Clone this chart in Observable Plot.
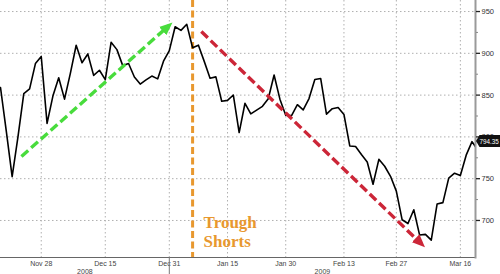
<!DOCTYPE html>
<html><head><meta charset="utf-8">
<script src="https://cdn.jsdelivr.net/npm/d3@7"></script>
<script src="https://cdn.jsdelivr.net/npm/@observablehq/plot@0.6"></script>
<style>
html,body{margin:0;padding:0;background:#fff;}
#chart svg{display:block;}
</style></head><body><div id="chart"></div>
<script>
// Trading days shown (x axis is a trading-day axis)
const dates = [
  "Nov 18","Nov 19","Nov 20","Nov 21","Nov 24","Nov 25","Nov 26","Nov 28",
  "Dec 1","Dec 2","Dec 3","Dec 4","Dec 5","Dec 8","Dec 9","Dec 10","Dec 11","Dec 12",
  "Dec 15","Dec 16","Dec 17","Dec 18","Dec 19","Dec 22","Dec 23","Dec 24","Dec 26",
  "Dec 29","Dec 30","Dec 31",
  "Jan 2","Jan 5","Jan 6","Jan 7","Jan 8","Jan 9","Jan 12","Jan 13","Jan 14","Jan 15",
  "Jan 16","Jan 20","Jan 21","Jan 22","Jan 23","Jan 26","Jan 27","Jan 28","Jan 29","Jan 30",
  "Feb 2","Feb 3","Feb 4","Feb 5","Feb 6","Feb 9","Feb 10","Feb 11","Feb 12","Feb 13",
  "Feb 17","Feb 18","Feb 19","Feb 20","Feb 23","Feb 24","Feb 25","Feb 26","Feb 27",
  "Mar 2","Mar 3","Mar 4","Mar 5","Mar 6","Mar 9","Mar 10","Mar 11","Mar 12","Mar 13",
  "Mar 16","Mar 17","Mar 18","Mar 19"
];
const closes = [
  859.12, 806.58, 752.44, 800.03, 851.81, 857.39, 887.68, 896.24,
  816.21, 848.81, 870.74, 845.22, 876.07, 909.70, 888.67, 899.24, 873.59, 879.73,
  868.57, 913.18, 904.42, 885.28, 887.88, 871.63, 863.16, 868.15, 872.80,
  869.42, 890.64, 903.25,
  931.80, 927.45, 934.70, 906.65, 909.73, 890.35, 870.26, 871.79, 842.62, 843.74,
  850.12, 805.22, 840.24, 827.50, 831.95, 836.57, 845.71, 874.09, 845.14, 825.88,
  825.44, 838.51, 832.23, 845.85, 868.60, 869.89, 827.16, 833.74, 835.19, 826.84,
  789.17, 788.42, 778.94, 770.05, 743.33, 773.14, 764.90, 752.83, 735.09,
  700.82, 696.33, 712.87, 682.55, 683.38, 676.53, 719.60, 721.36, 750.74, 756.55,
  753.89, 778.12, 794.35, 784.04
];
const tickLabels = ["Nov 28","Dec 15","Dec 31","Jan 15","Jan 30","Feb 13","Feb 27","Mar 16"];
const yTicks = [700, 750, 800, 850, 900, 950];
const yMinorTicks = [725, 775, 825, 875, 925];
const years = ["2008", "2009"];
const yearBreak = "Dec 31";
const lastPrice = 794.35;
const troughDate = "Jan 7";
const troughText = "Trough\nShorts";
// annotation arrows in (trading-day index, price)
const upArrow = [{x1: 3.6, y1: 776.6, x2: 28.9, y2: 933}];
const downArrow = [{x1: 34.5, y1: 926, x2: 72.3, y2: 672}];

const xDomain = [0, 81.6];
const yDomain = [655.7, 963.2];

const rows = closes.map((c, i) => ({i, c, date: dates[i]}));
const tickIdx = tickLabels.map(l => dates.indexOf(l));
const breakIdx = dates.indexOf(yearBreak);
const troughIdx = dates.indexOf(troughDate);
const yearRows = [
  {year: years[0], x: (xDomain[0] + breakIdx) / 2},
  {year: years[1], x: (breakIdx + xDomain[1]) / 2}
];
const yBelow = yDomain[0] - (17 / 257) * (yDomain[1] - yDomain[0]);

const green = "#48dc3c", red = "#cc2638", orange = "#e8982f";

function head(color, context) {
  const doc = (context && context.document) || document;
  const ns = "http://www.w3.org/2000/svg";
  const m = doc.createElementNS(ns, "marker");
  m.setAttribute("viewBox", "-7 -6 13 12");
  m.setAttribute("markerUnits", "userSpaceOnUse");
  m.setAttribute("markerWidth", 13);
  m.setAttribute("markerHeight", 12);
  m.setAttribute("refX", 1);
  m.setAttribute("refY", 0);
  m.setAttribute("orient", "auto");
  m.setAttribute("fill", color);
  m.setAttribute("stroke", "none");
  m.setAttribute("stroke-dasharray", "none");
  const p = doc.createElementNS(ns, "path");
  p.setAttribute("d", "M-7,-5.5L6,0L-7,5.5Z");
  p.setAttribute("stroke", "none");
  p.setAttribute("stroke-dasharray", "none");
  m.appendChild(p);
  return m;
}

const axisFont = "'Liberation Sans', Arial, sans-serif";

const chart = Plot.plot({
  width: 500, height: 274,
  marginTop: 0, marginRight: 25, marginBottom: 17, marginLeft: 0,
  style: {fontFamily: axisFont, background: "#fff", overflow: "visible"},
  x: {domain: xDomain, axis: null},
  y: {domain: yDomain, axis: null},
  marks: [
    Plot.ruleY(yTicks, {stroke: "#b0b0b0", strokeDasharray: "1.5,2.5"}),
    Plot.ruleX(tickIdx, {stroke: "#b0b0b0", strokeDasharray: "1.5,2.5"}),
    Plot.ruleX([troughIdx], {stroke: orange, strokeWidth: 3, strokeDasharray: "7,3.5"}),
    Plot.line(rows, {x: "i", y: "c", stroke: "#000", strokeWidth: 1.6, clip: true}),
    Plot.link(upArrow, {x1: "x1", y1: "y1", x2: "x2", y2: "y2", stroke: green, strokeWidth: 3.4, strokeDasharray: "9,4", markerEnd: head}),
    Plot.link(downArrow, {x1: "x1", y1: "y1", x2: "x2", y2: "y2", stroke: red, strokeWidth: 3.4, strokeDasharray: "9,4", markerEnd: head}),
    Plot.text([troughText], {x: troughIdx, y: 687, dx: 11, text: d => d, textAnchor: "start", lineAnchor: "middle",
      lineHeight: 1.12, fontSize: 17, fontWeight: "bold", fontFamily: "'Liberation Serif', 'Times New Roman', serif", fill: orange}),
    Plot.ruleY([yDomain[0]], {stroke: "#666"}),
    Plot.frame({anchor: "right", stroke: "#9a9a9a", strokeWidth: 2}),
    Plot.axisY(yMinorTicks, {anchor: "right", tickSize: 2, tickFormat: () => "", stroke: "#888"}),
    Plot.axisY(yTicks, {anchor: "right", tickSize: 4, tickPadding: 2, fontSize: 7.5, fill: "#333", stroke: "#222", strokeWidth: 1.3, tickFormat: d => d}),
    Plot.text(tickIdx, {x: d => d, y: yDomain[0], dy: 6.5, text: d => dates[d], fontSize: 7, fill: "#444"}),
    Plot.ruleX([breakIdx], {y1: yDomain[0], y2: yBelow, stroke: "#777"}),
    Plot.text(yearRows, {x: "x", y: yDomain[0], dy: 14, text: "year", fontSize: 7, fill: "#444"})
  ]
});

// last-price tag on the right axis, positioned through the chart's own scales
const sx = chart.scale("x"), sy = chart.scale("y");
const ax = sx.apply(xDomain[1]) + 1, py = sy.apply(lastPrice);
const svg = d3.select(chart);
svg.append("path")
  .attr("d", `M${ax},${py}L${ax + 3.5},${py - 6}H500V${py + 6}H${ax + 3.5}Z`)
  .attr("fill", "#111");
svg.append("text")
  .attr("x", ax + 3.5).attr("y", py).attr("dy", "0.35em")
  .attr("text-anchor", "start")
  .attr("textLength", 500 - (ax + 3.5) - 1.2).attr("lengthAdjust", "spacingAndGlyphs")
  .attr("fill", "#fff").attr("font-size", 7).attr("font-family", axisFont)
  .text(d3.format(".2f")(lastPrice));

document.getElementById("chart").appendChild(chart);
</script>
</body></html>
